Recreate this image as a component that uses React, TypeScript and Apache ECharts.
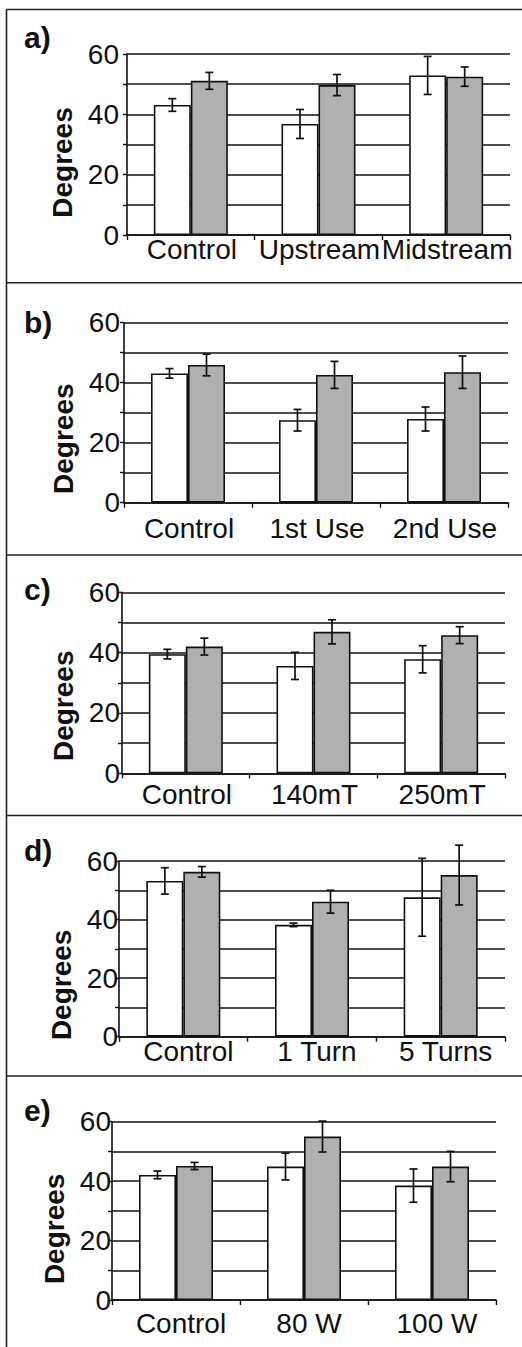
import React, { useEffect, useRef } from "react";
import * as echarts from "echarts";

// ---------- data ----------
const panelLetters = ["a)", "b)", "c)", "d)", "e)"];
const axisName = "Degrees";
const yTickLabels = [0, 20, 40, 60];

const categoriesA = ["Control", "Upstream", "Midstream"];
const whiteA = [43.1, 36.8, 52.9];
const whiteErrA = [2.1, 4.8, 6.3];
const grayA = [51.1, 49.7, 52.5];
const grayErrA = [2.8, 3.5, 3.2];

const categoriesB = ["Control", "1st Use", "2nd Use"];
const whiteB = [43.1, 27.5, 27.9];
const whiteErrB = [1.6, 3.6, 4.0];
const grayB = [45.9, 42.6, 43.5];
const grayErrB = [3.6, 4.5, 5.4];

const categoriesC = ["Control", "140mT", "250mT"];
const whiteC = [39.5, 35.6, 37.8];
const whiteErrC = [1.6, 4.5, 4.5];
const grayC = [42.0, 46.9, 45.8];
const grayErrC = [2.8, 4.0, 2.8];

const categoriesD = ["Control", "1 Turn", "5 Turns"];
const whiteD = [53.2, 38.2, 47.6];
const whiteErrD = [4.5, 0.6, 13.3];
const grayD = [56.3, 46.1, 55.2];
const grayErrD = [1.8, 3.9, 10.2];

const categoriesE = ["Control", "80 W", "100 W"];
const whiteE = [42.1, 44.9, 38.5];
const whiteErrE = [1.3, 4.5, 5.6];
const grayE = [45.1, 55.0, 44.9];
const grayErrE = [1.2, 5.2, 5.1];

const panels = [
  { cats: categoriesA, white: whiteA, whiteErr: whiteErrA, gray: grayA, grayErr: grayErrA },
  { cats: categoriesB, white: whiteB, whiteErr: whiteErrB, gray: grayB, grayErr: grayErrB },
  { cats: categoriesC, white: whiteC, whiteErr: whiteErrC, gray: grayC, grayErr: grayErrC },
  { cats: categoriesD, white: whiteD, whiteErr: whiteErrD, gray: grayD, grayErr: grayErrD },
  { cats: categoriesE, white: whiteE, whiteErr: whiteErrE, gray: grayE, grayErr: grayErrE },
];

// ---------- layout ----------
const W = 522;
const H = 1347;
const FONT = "'Liberation Sans', Arial, sans-serif";
const INK = "#111111";
const GRAY = "#b0b0b0";
const BAR_W = 37;
const LABEL_SIZE = 28;

const layouts = [
  { left: 127, top: 54, width: 383, height: 181, yMargin: 8, yShift: 3, xMargin: 0, xPad: 2, nameGap: 50, nameShift: 18, letterY: 39 },
  { left: 124, top: 322.7, width: 384, height: 180, yMargin: 4, yShift: 0, xMargin: 12, xPad: 2, nameGap: 47, nameShift: 26, letterY: 324 },
  { left: 122, top: 592.3, width: 383, height: 181, yMargin: 2, yShift: 0, xMargin: 7, xPad: 2, nameGap: 41, nameShift: 23, letterY: 591 },
  { left: 119, top: 861, width: 386, height: 175.7, yMargin: 1, yShift: 5, xMargin: 1, xPad: 10, nameGap: 37, nameShift: 36, letterY: 852 },
  { left: 112, top: 1121.7, width: 384, height: 178.3, yMargin: 1, yShift: 1, xMargin: 9, xPad: 10, nameGap: 38, nameShift: 18, letterY: 1112 },
];
const borderLinesY = [9.5, 282.7, 555, 815.5, 1076];
const borderX = 6.5;

function errorSeries(idx: number, vals: number[], errs: number[], offset: number, name: string) {
  return {
    type: "custom",
    name,
    xAxisIndex: idx,
    yAxisIndex: idx,
    clip: false,
    z: 10,
    data: vals.map((v, i) => [i, v, errs[i]]),
    renderItem: (_params: any, api: any) => {
      const x = api.value(0);
      const v = api.value(1);
      const e = api.value(2);
      const top = api.coord([x, v + e]);
      const bot = api.coord([x, v - e]);
      const cx = top[0] + offset;
      const style = { stroke: INK, lineWidth: 1.7 };
      return {
        type: "group",
        children: [
          { type: "line", shape: { x1: cx, y1: top[1], x2: cx, y2: bot[1] }, style },
          { type: "line", shape: { x1: cx - 4, y1: top[1], x2: cx + 4, y2: top[1] }, style },
          { type: "line", shape: { x1: cx - 4, y1: bot[1], x2: cx + 4, y2: bot[1] }, style },
        ],
      };
    },
  };
}

function buildOption() {
  const grid: any[] = [];
  const xAxis: any[] = [];
  const yAxis: any[] = [];
  const series: any[] = [];
  const graphic: any[] = [];

  panels.forEach((p, i) => {
    const L = layouts[i];
    grid.push({ left: L.left, top: L.top, width: L.width, height: L.height, containLabel: false });
    xAxis.push({
      type: "category",
      gridIndex: i,
      data: p.cats,
      boundaryGap: true,
      axisLine: { show: true, lineStyle: { color: INK, width: 1.6 } },
      axisTick: { show: true, length: 5, lineStyle: { color: INK, width: 1.4 } },
      axisLabel: {
        interval: 0,
        fontSize: LABEL_SIZE,
        fontFamily: FONT,
        color: INK,
        margin: L.xMargin,
        padding: [0, 0, 0, L.xPad],
      },
      splitLine: { show: false },
    });
    yAxis.push({
      type: "value",
      gridIndex: i,
      min: 0,
      max: 60,
      interval: 10,
      name: axisName,
      nameLocation: "middle",
      nameRotate: 90,
      nameGap: L.nameGap,
      nameTextStyle: {
        fontSize: 28,
        fontWeight: "bold",
        fontFamily: FONT,
        color: INK,
        padding: [0, L.nameShift * 2, 0, 0],
      },
      axisLine: { show: true, lineStyle: { color: INK, width: 1.6 } },
      axisTick: { show: true, length: 4, lineStyle: { color: INK, width: 1.4 } },
      axisLabel: {
        fontSize: LABEL_SIZE,
        fontFamily: FONT,
        color: INK,
        margin: L.yMargin,
        padding: [0, 0, L.yShift * 2, 0],
        formatter: (v: number) => (yTickLabels.indexOf(v) >= 0 ? String(v) : ""),
      },
      splitLine: { show: true, lineStyle: { color: INK, width: 1.6 } },
    });
    series.push({
      type: "bar",
      name: "Series 1",
      xAxisIndex: i,
      yAxisIndex: i,
      data: p.white,
      barWidth: BAR_W,
      barGap: "0%",
      itemStyle: { color: "#ffffff", borderColor: INK, borderWidth: 1.6 },
      z: 3,
    });
    series.push({
      type: "bar",
      name: "Series 2",
      xAxisIndex: i,
      yAxisIndex: i,
      data: p.gray,
      barWidth: BAR_W,
      barGap: "0%",
      itemStyle: { color: GRAY, borderColor: INK, borderWidth: 1.6 },
      z: 3,
    });
    series.push(errorSeries(i, p.white, p.whiteErr, -BAR_W / 2, "Series 1 error"));
    series.push(errorSeries(i, p.gray, p.grayErr, BAR_W / 2, "Series 2 error"));

    graphic.push({
      type: "text",
      left: 24,
      top: L.letterY - 17,
      style: { text: panelLetters[i], fontSize: 30, fontWeight: "bold", fontFamily: FONT, fill: INK },
    });
  });

  borderLinesY.forEach((y) => {
    graphic.push({
      type: "line",
      shape: { x1: borderX, y1: y, x2: W, y2: y },
      style: { stroke: "#222222", lineWidth: 1.6 },
    });
  });
  graphic.push({
    type: "line",
    shape: { x1: borderX, y1: borderLinesY[0], x2: borderX, y2: H },
    style: { stroke: "#222222", lineWidth: 1.6 },
  });

  return {
    animation: false,
    backgroundColor: "#ffffff",
    grid,
    xAxis,
    yAxis,
    series,
    graphic,
  };
}

export default function App() {
  const ref = useRef<HTMLDivElement>(null);
  useEffect(() => {
    if (!ref.current) return;
    const chart = echarts.init(ref.current, undefined, { renderer: "svg" });
    chart.setOption(buildOption() as any);
    return () => chart.dispose();
  }, []);
  return (
    <div
      ref={ref}
      style={{ position: "absolute", left: 0, top: 0, width: W, height: H, background: "#fff" }}
    />
  );
}
